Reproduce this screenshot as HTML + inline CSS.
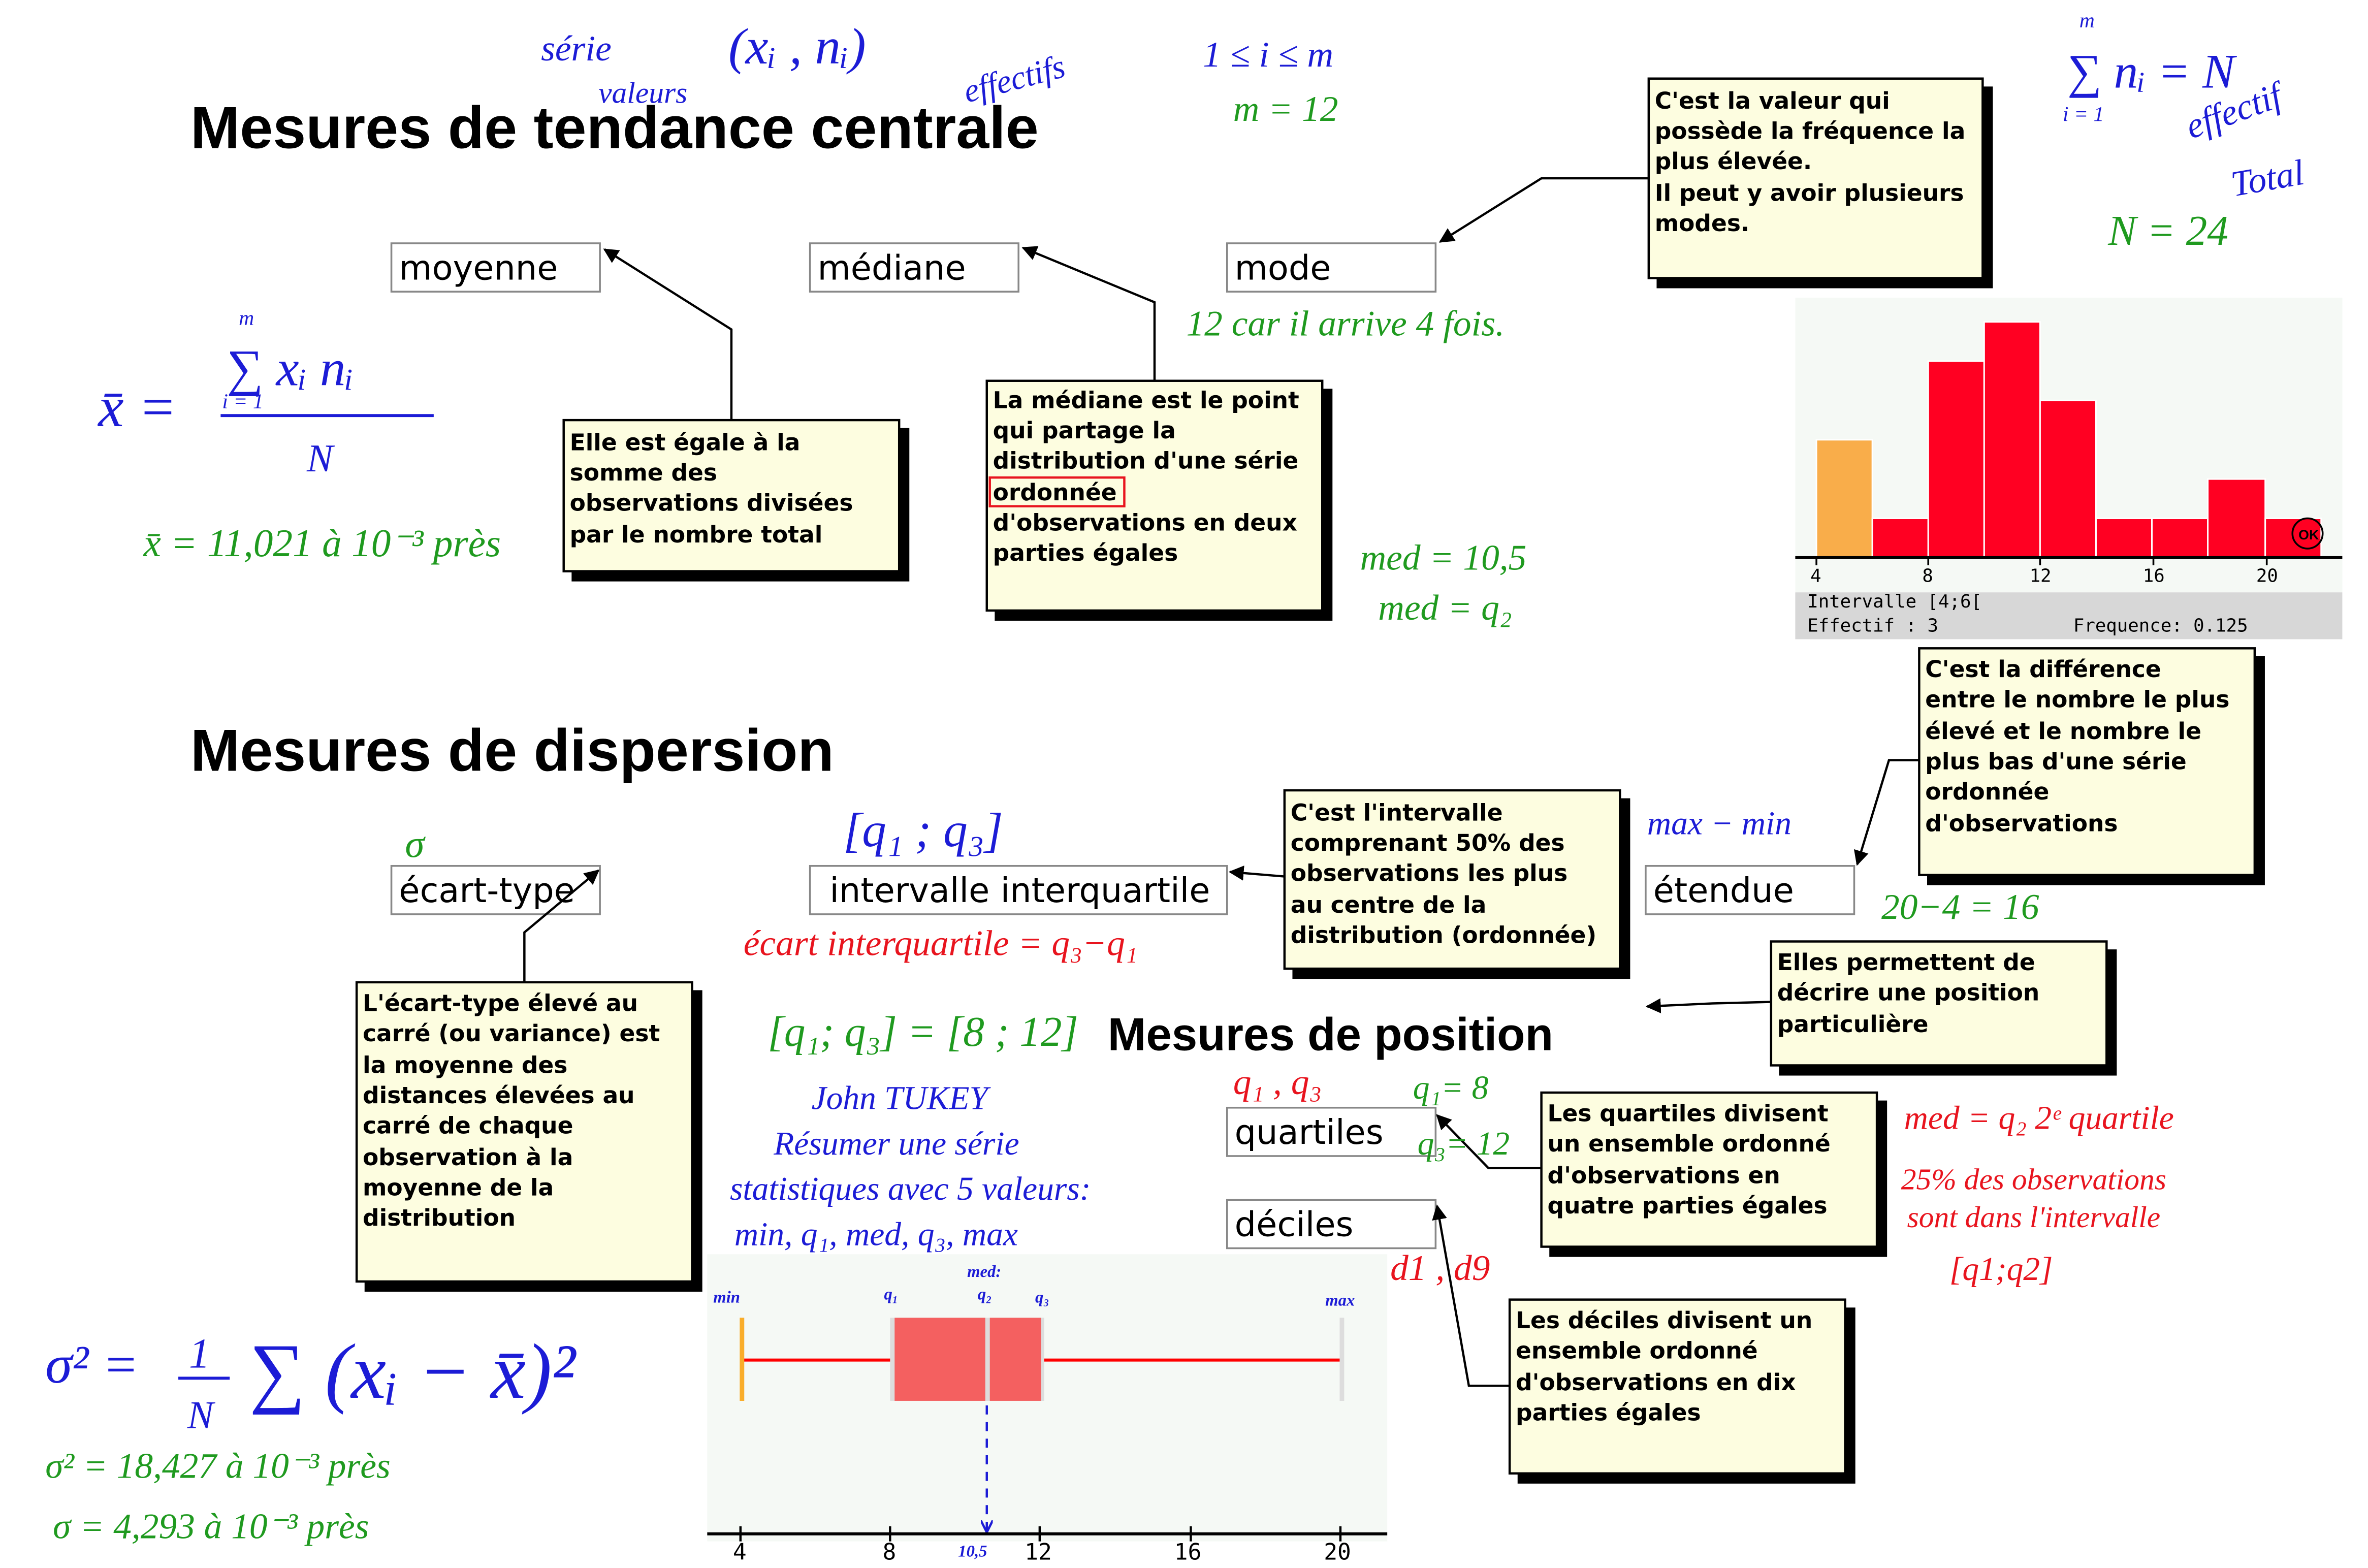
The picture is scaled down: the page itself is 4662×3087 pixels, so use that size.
<!DOCTYPE html>
<html><head><meta charset="utf-8"><style>
html,body{margin:0;padding:0;background:#fff;}
svg{display:block;}
.t{font-family:"Liberation Sans",sans-serif;font-weight:bold;fill:#000;}
.lb{font-family:"DejaVu Sans","Liberation Sans",sans-serif;font-size:22.5px;fill:#000;}
.n{font-family:"DejaVu Sans","Liberation Sans",sans-serif;font-weight:bold;font-size:15.3px;fill:#000;}
.hb{font-family:"Liberation Serif",serif;font-style:italic;fill:#1c1cd6;}
.hg{font-family:"Liberation Serif",serif;font-style:italic;fill:#1f9a1f;}
.hr{font-family:"Liberation Serif",serif;font-style:italic;fill:#e8141e;}
.m{font-family:"DejaVu Sans Mono","Liberation Mono",monospace;font-size:12px;fill:#000;}
</style></head><body>
<svg width="4662" height="3087" viewBox="0 0 1567 1037.6" xmlns="http://www.w3.org/2000/svg">
<defs><marker id="a" markerWidth="10" markerHeight="10" refX="9" refY="5" orient="auto" markerUnits="userSpaceOnUse"><path d="M0,0 L10,5 L0,10 z" fill="#000"/></marker>
<marker id="ab" markerWidth="8" markerHeight="8" refX="7" refY="4" orient="auto" markerUnits="userSpaceOnUse"><path d="M0,0 L8,4 L0,8" fill="none" stroke="#1c1cd6" stroke-width="1.5"/></marker></defs>
<rect width="1567" height="1038" fill="#fff"/>

<text class="t" x="126" y="98" font-size="39.3">Mesures de tendance centrale</text>
<text class="t" x="126" y="510" font-size="39.3">Mesures de dispersion</text>
<text class="t" x="733" y="695" font-size="30.5">Mesures de position</text>

<g fill="#fff" stroke="#888" stroke-width="1.2">
<rect x="259" y="161" width="138" height="32"/><rect x="536" y="161" width="138" height="32"/><rect x="812" y="161" width="138" height="32"/>
<rect x="259" y="573" width="138" height="32"/><rect x="536" y="573" width="276" height="32"/><rect x="1089" y="573" width="138" height="32"/>
<rect x="812" y="733" width="138" height="32"/><rect x="812" y="794" width="138" height="32"/>
</g>
<text class="lb" x="264" y="185">moyenne</text><text class="lb" x="541" y="185">médiane</text><text class="lb" x="817" y="185">mode</text>
<text class="lb" x="264" y="597">écart-type</text><text class="lb" x="549" y="597">intervalle interquartile</text><text class="lb" x="1094" y="597">étendue</text>
<text class="lb" x="817" y="757">quartiles</text><text class="lb" x="817" y="818">déciles</text>

<g stroke="#000" stroke-width="1.5">
<rect x="1097" y="58" width="221" height="132" fill="#000"/><rect x="1091" y="52" width="221" height="132" fill="#fdfde0"/>
<rect x="379" y="284" width="222" height="100" fill="#000"/><rect x="373" y="278" width="222" height="100" fill="#fdfde0"/>
<rect x="659" y="258" width="222" height="152" fill="#000"/><rect x="653" y="252" width="222" height="152" fill="#fdfde0"/>
<rect x="1276" y="435" width="222" height="150" fill="#000"/><rect x="1270" y="429" width="222" height="150" fill="#fdfde0"/>
<rect x="856" y="529" width="222" height="118" fill="#000"/><rect x="850" y="523" width="222" height="118" fill="#fdfde0"/>
<rect x="1178" y="629" width="222" height="82" fill="#000"/><rect x="1172" y="623" width="222" height="82" fill="#fdfde0"/>
<rect x="242" y="656" width="222" height="198" fill="#000"/><rect x="236" y="650" width="222" height="198" fill="#fdfde0"/>
<rect x="1026" y="729" width="222" height="102" fill="#000"/><rect x="1020" y="723" width="222" height="102" fill="#fdfde0"/>
<rect x="1005" y="866" width="222" height="115" fill="#000"/><rect x="999" y="860" width="222" height="115" fill="#fdfde0"/>
</g>
<g class="n">
<text x="1095" y="72">C'est la valeur qui</text><text x="1095" y="92">possède la fréquence la</text><text x="1095" y="112">plus élevée.</text><text x="1095" y="133">Il peut y avoir plusieurs</text><text x="1095" y="153">modes.</text>
<text x="377" y="298">Elle est égale à la</text><text x="377" y="318">somme des</text><text x="377" y="338">observations divisées</text><text x="377" y="359">par le nombre total</text>
<text x="657" y="270">La médiane est le point</text><text x="657" y="290">qui partage la</text><text x="657" y="310">distribution d'une série</text><text x="657" y="331">ordonnée</text><text x="657" y="351">d'observations en deux</text><text x="657" y="371">parties égales</text>
<text x="1274" y="448">C'est la différence</text><text x="1274" y="468">entre le nombre le plus</text><text x="1274" y="489">élevé et le nombre le</text><text x="1274" y="509">plus bas d'une série</text><text x="1274" y="529">ordonnée</text><text x="1274" y="550">d'observations</text>
<text x="854" y="543">C'est l'intervalle</text><text x="854" y="563">comprenant 50% des</text><text x="854" y="583">observations les plus</text><text x="854" y="604">au centre de la</text><text x="854" y="624">distribution (ordonnée)</text>
<text x="1176" y="642">Elles permettent de</text><text x="1176" y="662">décrire une position</text><text x="1176" y="683">particulière</text>
<text x="240" y="669">L'écart-type élevé au</text><text x="240" y="689">carré (ou variance) est</text><text x="240" y="710">la moyenne des</text><text x="240" y="730">distances élevées au</text><text x="240" y="750">carré de chaque</text><text x="240" y="771">observation à la</text><text x="240" y="791">moyenne de la</text><text x="240" y="811">distribution</text>
<text x="1024" y="742">Les quartiles divisent</text><text x="1024" y="762">un ensemble ordonné</text><text x="1024" y="783">d'observations en</text><text x="1024" y="803">quatre parties égales</text>
<text x="1003" y="879">Les déciles divisent un</text><text x="1003" y="899">ensemble ordonné</text><text x="1003" y="920">d'observations en dix</text><text x="1003" y="940">parties égales</text>
</g>
<rect x="655" y="316" width="89" height="19" fill="none" stroke="#e8141e" stroke-width="1.5"/>

<g fill="none" stroke="#000" stroke-width="1.5" marker-end="url(#a)">
<path d="M484,278 L484,218 L400,165"/>
<path d="M764,252 L764,200 L677,164"/>
<path d="M1091,118 L1020,118 L953,160"/>
<path d="M347,650 L347,617 L396,576"/>
<path d="M850,580 L814,577"/>
<path d="M1270,503 L1250,503 L1229,572"/>
<path d="M1172,663 L1133,664 L1090,666"/>
<path d="M1020,773 L985,773 L951,738"/>
<path d="M999,917 L972,917 L951,798"/>
</g>

<rect x="1188" y="197" width="362" height="195" fill="#f5f9f5"/>
<rect x="1188" y="392" width="362" height="31" fill="#d7d7d7"/>
<g stroke="#fff" stroke-width="1">
<rect x="1202" y="291" width="37" height="78" fill="#f9ad4a"/>
<rect x="1239" y="343" width="37" height="26" fill="#ff0022"/>
<rect x="1276" y="239" width="37" height="130" fill="#ff0022"/>
<rect x="1313" y="213" width="37" height="156" fill="#ff0022"/>
<rect x="1350" y="265" width="37" height="104" fill="#ff0022"/>
<rect x="1387" y="343" width="37" height="26" fill="#ff0022"/>
<rect x="1424" y="343" width="37" height="26" fill="#ff0022"/>
<rect x="1461" y="317" width="38" height="52" fill="#ff0022"/>
<rect x="1499" y="343" width="37" height="26" fill="#ff0022"/>
</g>
<circle cx="1527" cy="353" r="10" fill="none" stroke="#000" stroke-width="1.2"/>
<text x="1521" y="357" font-family="Liberation Sans" font-size="9" font-weight="bold">OK</text>
<line x1="1188" y1="369" x2="1550" y2="369" stroke="#000" stroke-width="2"/>
<g stroke="#000" stroke-width="1.2"><line x1="1202" y1="369" x2="1202" y2="374"/><line x1="1276" y1="369" x2="1276" y2="374"/><line x1="1350" y1="369" x2="1350" y2="374"/><line x1="1425" y1="369" x2="1425" y2="374"/><line x1="1500" y1="369" x2="1500" y2="374"/></g>
<g class="m"><text x="1198" y="385">4</text><text x="1272" y="385">8</text><text x="1343" y="385">12</text><text x="1418" y="385">16</text><text x="1493" y="385">20</text>
<text x="1196" y="402">Intervalle   [4;6[</text><text x="1196" y="418">Effectif : 3</text><text x="1372" y="418">Frequence: 0.125</text></g>

<rect x="468" y="830" width="450" height="190" fill="#f5f9f5"/>
<line x1="491" y1="900" x2="591" y2="900" stroke="#f00" stroke-width="2"/>
<line x1="689" y1="900" x2="887" y2="900" stroke="#f00" stroke-width="2"/>
<rect x="589" y="872" width="102" height="55" fill="#ddd"/>
<rect x="592" y="872" width="60" height="55" fill="#f46060"/>
<rect x="655" y="872" width="34" height="55" fill="#f46060"/>
<line x1="491" y1="872" x2="491" y2="927" stroke="#f9ad2a" stroke-width="3"/>
<line x1="888" y1="872" x2="888" y2="927" stroke="#ddd" stroke-width="3"/>
<line x1="653" y1="930" x2="653" y2="1013" stroke="#1c1cd6" stroke-width="1.5" stroke-dasharray="6,5" marker-end="url(#ab)"/>
<line x1="468" y1="1015" x2="918" y2="1015" stroke="#000" stroke-width="2"/>
<g stroke="#000" stroke-width="1.5"><line x1="490" y1="1010" x2="490" y2="1020"/><line x1="589" y1="1010" x2="589" y2="1020"/><line x1="688" y1="1010" x2="688" y2="1020"/><line x1="788" y1="1010" x2="788" y2="1020"/><line x1="887" y1="1010" x2="887" y2="1020"/></g>
<g font-family="DejaVu Sans Mono,monospace" font-size="15"><text x="485" y="1032">4</text><text x="584" y="1032">8</text><text x="678" y="1032">12</text><text x="777" y="1032">16</text><text x="876" y="1032">20</text></g>
<g class="hb" font-size="11" font-weight="bold"><text x="472" y="862">min</text><text x="585" y="860">q₁</text><text x="647" y="860">q₂</text><text x="685" y="862">q₃</text><text x="877" y="864">max</text><text x="640" y="845">med:</text><text x="634" y="1030">10,5</text></g>

<g class="hb">
<text x="358" y="40" font-size="24">série</text>
<text x="482" y="42" font-size="34">(xᵢ , nᵢ)</text>
<text x="396" y="68" font-size="20">valeurs</text>
<text x="640" y="68" font-size="22" transform="rotate(-15 640 68)">effectifs</text>
<text x="796" y="44" font-size="24">1 ≤ i ≤ m</text>
<text x="1368" y="58" font-size="32">∑ nᵢ = N</text>
<text x="1376" y="18" font-size="14">m</text>
<text x="1365" y="80" font-size="14">i = 1</text>
<text x="1450" y="92" font-size="24" transform="rotate(-20 1450 92)">effectif</text>
<text x="1478" y="130" font-size="24" transform="rotate(-10 1478 130)">Total</text>
<text x="65" y="282" font-size="38">x̄ =</text>
<text x="150" y="255" font-size="34">∑ xᵢ nᵢ</text>
<text x="158" y="215" font-size="14">m</text><text x="147" y="270" font-size="14">i = 1</text>
<line x1="146" y1="275" x2="287" y2="275" stroke="#1c1cd6" stroke-width="2"/>
<text x="203" y="312" font-size="26">N</text>
<text x="558" y="560" font-size="32">[q₁ ; q₃]</text>
<text x="1090" y="552" font-size="22">max − min</text>
<text x="537" y="734" font-size="22">John TUKEY</text>
<text x="512" y="764" font-size="22">Résumer une série</text>
<text x="483" y="794" font-size="22">statistiques avec 5 valeurs:</text>
<text x="486" y="824" font-size="22">min, q₁, med, q₃, max</text>
<text x="30" y="915" font-size="36">σ² =</text>
<text x="125" y="905" font-size="28">1</text><line x1="118" y1="912" x2="152" y2="912" stroke="#1c1cd6" stroke-width="2"/><text x="124" y="945" font-size="26">N</text>
<text x="165" y="925" font-size="52">∑ (xᵢ − x̄)²</text>
</g>
<g class="hg">
<text x="816" y="80" font-size="24">m = 12</text>
<text x="1395" y="162" font-size="28">N = 24</text>
<text x="785" y="222" font-size="24">12  car il  arrive  4 fois.</text>
<text x="95" y="368" font-size="26">x̄ = 11,021 à 10⁻³ près</text>
<text x="900" y="377" font-size="24">med = 10,5</text>
<text x="912" y="410" font-size="24">med = q₂</text>
<text x="268" y="567" font-size="26">σ</text>
<text x="1245" y="608" font-size="24">20−4 = 16</text>
<text x="508" y="692" font-size="28">[q₁; q₃] = [8 ; 12]</text>
<text x="935" y="727" font-size="22">q₁= 8</text>
<text x="938" y="764" font-size="22">q₃= 12</text>
<text x="30" y="978" font-size="24">σ² = 18,427  à 10⁻³ près</text>
<text x="35" y="1018" font-size="24">σ = 4,293  à 10⁻³ près</text>
</g>
<g class="hr">
<text x="492" y="632" font-size="24">écart interquartile = q₃−q₁</text>
<text x="816" y="724" font-size="24">q₁ , q₃</text>
<text x="920" y="847" font-size="24">d1 , d9</text>
<text x="1260" y="747" font-size="22">med = q₂    2ᵉ quartile</text>
<text x="1258" y="787" font-size="20">25% des observations</text>
<text x="1262" y="812" font-size="20">sont dans l'intervalle</text>
<text x="1290" y="847" font-size="22">[q1;q2]</text>
</g>
</svg>
</body></html>
